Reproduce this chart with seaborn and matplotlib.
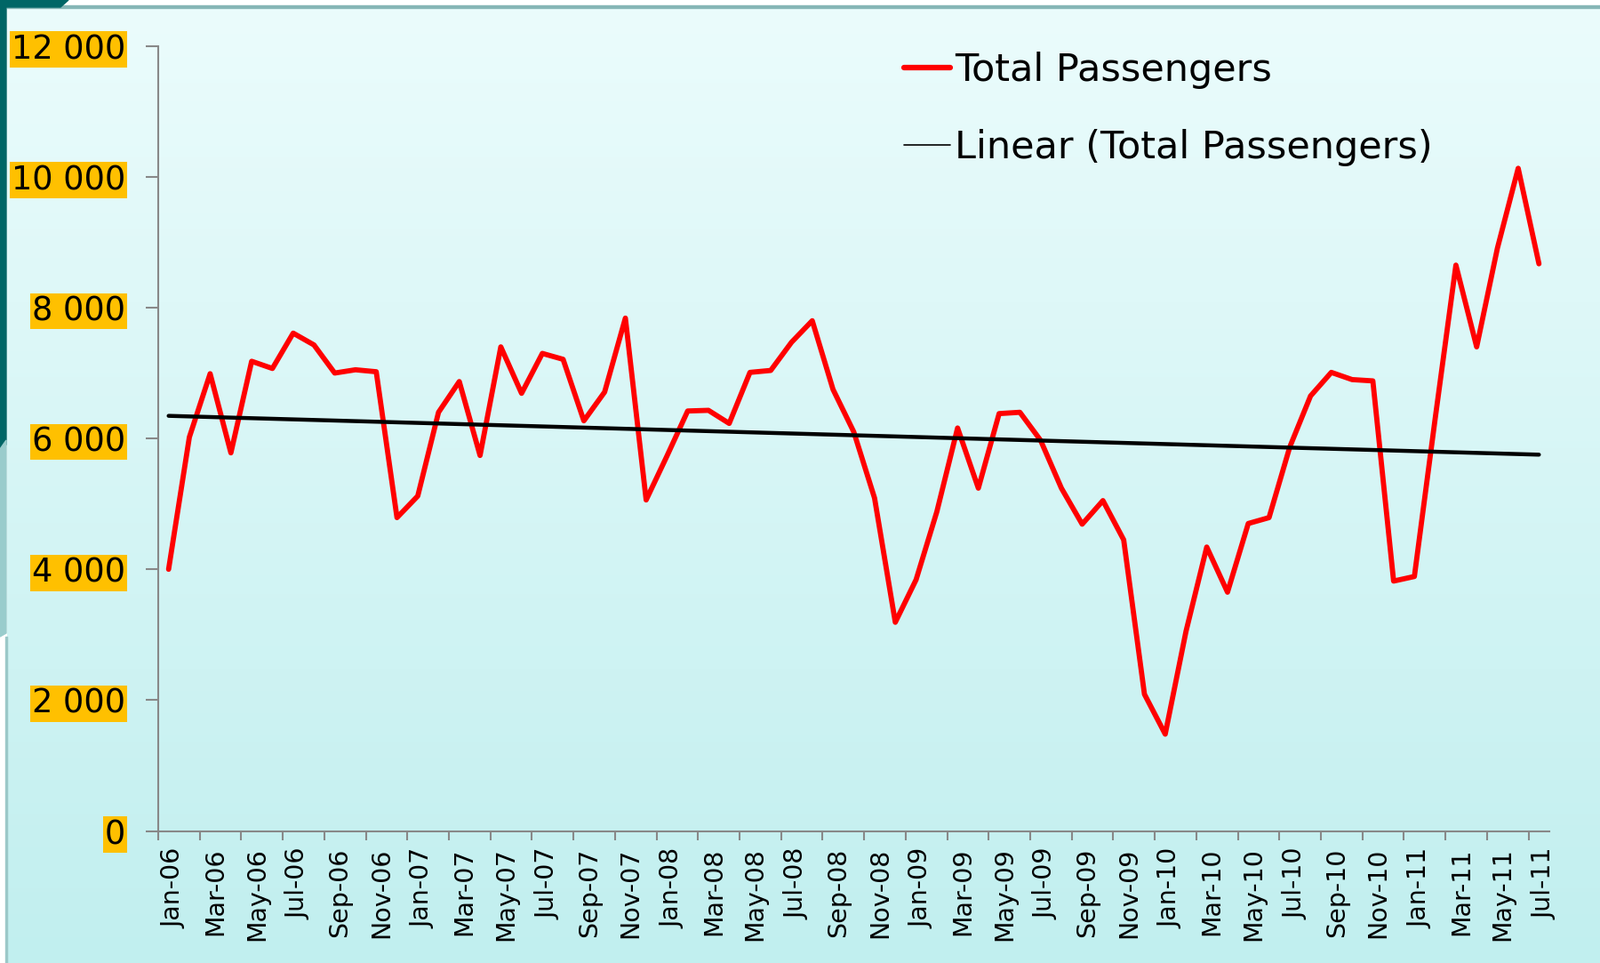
import matplotlib.pyplot as plt
import matplotlib.patches as mpatches
import matplotlib.transforms as mtransforms
from matplotlib.lines import Line2D
import numpy as np
import pandas as pd
import seaborn as sns

# monthly totals, Jan-06 .. Jul-11
months = pd.date_range("2006-01-01", "2011-07-01", freq="MS").strftime("%b-%y").tolist()
passengers = [
    4000, 6020, 6990, 5780, 7180, 7070, 7610, 7430, 7000, 7050, 7020, 4790,
    5120, 6400, 6870, 5740, 7400, 6690, 7300, 7210, 6270, 6710, 7840, 5060,
    5730, 6420, 6430, 6230, 7010, 7040, 7470, 7800, 6750, 6100, 5090, 3190,
    3840, 4880, 6160, 5240, 6380, 6400, 5970, 5240, 4690, 5050, 4450, 2090,
    1480, 3050, 4340, 3650, 4700, 4790, 5870, 6650, 7010, 6900, 6880, 3820,
    3890, 6300, 8650, 7400, 8910, 10130, 8670,
]
yticks = [0, 2000, 4000, 6000, 8000, 10000, 12000]

df = pd.DataFrame({"idx": np.arange(len(months)), "month": months, "Total Passengers": passengers})

sns.set_style("ticks")
plt.rcParams["font.family"] = ["DejaVu Sans"]
plt.rcParams["text.color"] = "black"
plt.rcParams["xtick.labelcolor"] = "black"
plt.rcParams["ytick.labelcolor"] = "black"

W, H = 1800, 1083
fig = plt.figure(figsize=(W / 100, H / 100), dpi=100, facecolor="white")

# slide background
bg = fig.add_axes([0, 0, 1, 1], zorder=-10)
bg.set_xlim(0, W)
bg.set_ylim(H, 0)
bg.axis("off")
grad = np.linspace(0, 1, 256)[:, None]
top_c = np.array([235, 252, 252]) / 255
bot_c = np.array([193, 239, 239]) / 255
img = top_c[None, None, :] * (1 - grad[..., None]) + bot_c[None, None, :] * grad[..., None]
bg.imshow(img, extent=[8, W, H, 9], aspect="auto", zorder=0)
bg.add_patch(mpatches.Rectangle((8, 6), W, 3, color="#86B6B6", zorder=1))
bg.add_patch(mpatches.Polygon([(0, 0), (77, 0), (68, 8), (7, 8), (7, 500), (0, 505)],
                              color="#006666", zorder=1))
bg.add_patch(mpatches.Polygon([(0, 505), (7, 495), (7, 712), (0, 716)],
                              color="#99CCCC", zorder=1))
bg.add_patch(mpatches.Rectangle((6, 716), 2, H, color="#9CC8C8", zorder=1))

ax = fig.add_axes([178 / W, 148.5 / H, 1565 / W, 882.8 / H])
ax.set_facecolor("none")

sns.lineplot(data=df, x="idx", y="Total Passengers", color="#FF0000", lw=4.2, ax=ax)
sns.regplot(data=df, x="idx", y="Total Passengers", scatter=False, ci=None,
            color="black", line_kws={"lw": 3.2}, ax=ax)

ax.set_xlim(-0.5, len(months) - 0.5)
ax.set_ylim(0, 12000)
ax.set_xlabel("")
ax.set_ylabel("")

ax.set_xticks(df["idx"][::2])
ax.set_xticklabels(df["month"][::2], rotation=90, fontsize=20.5)
ax.set_xticks(np.arange(-0.5, len(months) - 1, 2), minor=True)
ax.tick_params(axis="x", which="major", length=0, pad=13.5)
ax.tick_params(axis="x", which="minor", length=7, width=1.5, color="#888888")
shift = mtransforms.ScaledTranslation(6 / 100, 0, fig.dpi_scale_trans)
for lab in ax.get_xticklabels():
    lab.set_transform(lab.get_transform() + shift)

ax.set_yticks(yticks)
ax.set_yticklabels([f"{v:,}".replace(",", " ") for v in yticks], fontsize=26.5)
ax.tick_params(axis="y", length=10, width=1.5, color="#888888", pad=16.5)
for lab in ax.get_yticklabels():
    lab.set_bbox(dict(boxstyle="square,pad=0.05", fc="#FFC000", ec="none"))

for s in ["top", "right"]:
    ax.spines[s].set_visible(False)
for s in ["left", "bottom"]:
    ax.spines[s].set_color("#888888")
    ax.spines[s].set_linewidth(1.5)

handles = [Line2D([], [], color="#FF0000", lw=4.5, solid_capstyle="round"),
           Line2D([], [], color="black", lw=1.2)]
ax.legend(handles, ["Total Passengers", "Linear (Total Passengers)"],
          loc="upper left", bbox_to_anchor=(0.536, 0.993), frameon=False,
          fontsize=31, handlelength=1.2, handletextpad=0.12,
          labelspacing=1.05, borderpad=0, borderaxespad=0)

fig.savefig("out.png", dpi=100, facecolor=fig.get_facecolor())
